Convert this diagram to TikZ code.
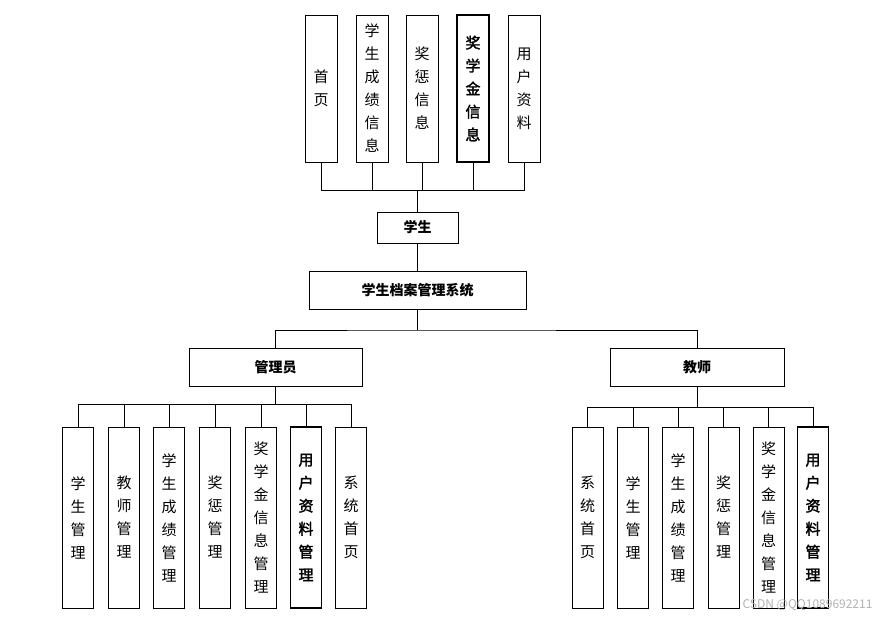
\documentclass[tikz,border=0pt]{standalone}
\usepackage{fontspec}
\setmainfont{Noto Sans CJK SC}
\newfontfamily\bfcjk[FakeBold=2]{Noto Sans CJK SC}
\begin{document}
\begin{tikzpicture}[x=1pt,y=-1pt,
  box/.style={draw,line width=1pt,inner sep=0pt,font=\fontsize{15}{23}\selectfont},
  vbox/.style={box,minimum width=31pt,minimum height=181pt,align=center},
  tbox/.style={box,minimum width=32pt,minimum height=147pt,align=center},
  bbox/.style={line width=1.8pt,font=\bfcjk\fontsize{15}{23}\selectfont},
  hbox/.style={box,font=\bfseries\fontsize{14}{18}\selectfont},
  ln/.style={line width=0.8pt}]
\useasboundingbox (0,0) rectangle (878,621);
% top
\node[tbox] (t1) at (321,88.5) {首\\页};
\node[tbox] (t2) at (372,88.5) {学\\生\\成\\绩\\信\\息};
\node[tbox] (t3) at (422,88.5) {奖\\惩\\信\\息};
\node[tbox,bbox] (t4) at (473,88.5) {奖\\学\\金\\信\\息};
\node[tbox] (t5) at (524,88.5) {用\\户\\资\\料};
\node[hbox,minimum width=81pt,minimum height=31pt] (stu) at (417.5,227.5) {学生};
\node[hbox,minimum width=217pt,minimum height=38pt] (sys) at (417.5,290) {学生档案管理系统};
\node[hbox,minimum width=173pt,minimum height=38pt] (adm) at (275.5,367) {管理员};
\node[hbox,minimum width=174pt,minimum height=38pt] (tea) at (697,367) {教师};
\coordinate (jt) at (417.5,190);
\foreach \n in {t1,t2,t3,t4,t5} \draw[ln] (\n.south) |- (jt);
\draw[ln] (t1.south|-jt) -- (t5.south|-jt);
\draw[ln] (jt) -- (stu.north);
\draw[ln] (stu.south) -- (sys.north);
\coordinate (js) at (417.5,330);
\draw[ln] (sys.south) -- (js);
\draw[ln] (adm.north) |- (js) -| (tea.north);
% admin children
\node[vbox] (a1) at (78,517.5) {学\\生\\管\\理};
\node[vbox] (a2) at (124,517.5) {教\\师\\管\\理};
\node[vbox] (a3) at (169,517.5) {学\\生\\成\\绩\\管\\理};
\node[vbox] (a4) at (215,517.5) {奖\\惩\\管\\理};
\node[vbox] (a5) at (261,517.5) {奖\\学\\金\\信\\息\\管\\理};
\node[vbox,bbox] (a6) at (306,517.5) {用\\户\\资\\料\\管\\理};
\node[vbox] (a7) at (351,517.5) {系\\统\\首\\页};
\coordinate (ja) at (275.5,404);
\draw[ln] (adm.south) -- (ja);
\draw[ln] (a1.north|-ja) -- (a7.north|-ja);
\foreach \n in {a1,a2,a3,a4,a5,a6,a7} \draw[ln] (\n.north) -- (\n.north|-ja);
% teacher children
\node[vbox] (b1) at (587.5,517.5) {系\\统\\首\\页};
\node[vbox] (b2) at (633,517.5) {学\\生\\管\\理};
\node[vbox] (b3) at (678,517.5) {学\\生\\成\\绩\\管\\理};
\node[vbox] (b4) at (723.5,517.5) {奖\\惩\\管\\理};
\node[vbox] (b5) at (768.5,517.5) {奖\\学\\金\\信\\息\\管\\理};
\node[vbox,bbox] (b6) at (813,517.5) {用\\户\\资\\料\\管\\理};
\coordinate (jb) at (697,407);
\draw[ln] (tea.south) -- (jb);
\draw[ln] (b1.north|-jb) -- (b6.north|-jb);
\foreach \n in {b1,b2,b3,b4,b5,b6} \draw[ln] (\n.north) -- (\n.north|-jb);
\node[text=black!30,font=\fontsize{12}{14}\selectfont,anchor=east] (wm) at (876,605) {CSDN @QQ1089692211};
\end{tikzpicture}
\end{document}
